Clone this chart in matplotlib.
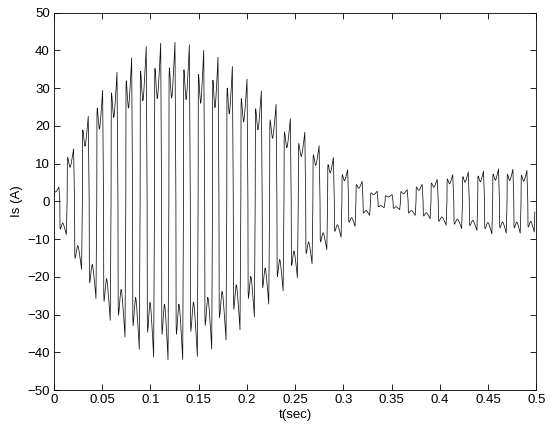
import numpy as np
import matplotlib
matplotlib.use("Agg")
import matplotlib.pyplot as plt

plt.rcParams['font.family'] = ['Liberation Sans', 'DejaVu Sans']

# spike times (s) and spike values (A) of each half-cycle
pos_t = [0.0052, 0.0204, 0.0356, 0.0505, 0.0654, 0.0806, 0.0957, 0.1107, 0.1255,
         0.1404, 0.1553, 0.1701, 0.1850, 0.2002, 0.2150, 0.2303, 0.2451, 0.2601,
         0.2749, 0.2897, 0.3045, 0.3195, 0.3351, 0.3506, 0.3662, 0.3817, 0.3973,
         0.4134, 0.4295, 0.4453, 0.4609, 0.4758, 0.4903]
pos_v = [3.8, 13.9, 22.5, 29.4, 34.2, 38.0, 41.0, 41.9, 42.1,
         41.5, 40.0, 38.2, 35.7, 32.4, 29.2, 25.7, 21.9, 18.3,
         14.7, 11.6, 8.4, 5.3, 2.7, 1.8, 3.1, 4.5, 5.8,
         7.1, 7.8, 8.0, 8.6, 8.5, 8.2]

neg_t = [0.0128, 0.0287, 0.0436, 0.0584, 0.0737, 0.0885, 0.1034, 0.1183, 0.1335,
         0.1487, 0.1636, 0.1784, 0.1929, 0.2078, 0.2227, 0.2376, 0.2524, 0.2676,
         0.2829, 0.2977, 0.3122, 0.3273, 0.3423, 0.3584, 0.3745, 0.3900, 0.4066,
         0.4227, 0.4385, 0.4540, 0.4689, 0.4834, 0.4979]
neg_v = [-8.8, -18.0, -25.7, -31.5, -35.9, -39.2, -41.2, -41.9, -41.9,
         -41.0, -39.1, -36.7, -34.0, -30.6, -27.2, -23.7, -20.2, -16.5,
         -12.8, -9.5, -6.6, -3.7, -1.7, -2.2, -3.7, -4.6, -6.3,
         -7.2, -7.7, -8.6, -8.4, -8.4, -8.1]

# shape of one half-cycle (fraction of half period, fraction of spike value)
shape_u = [0.0, 0.03, 0.07, 0.15, 0.25, 0.38, 0.45, 0.55, 0.65, 0.75, 0.88, 0.92, 0.96]
shape_h = [0.0, 0.78, 0.84, 0.80, 0.72, 0.65, 0.66, 0.72, 0.80, 0.88, 1.0, 0.70, 0.35]
spike_u = 0.88

spikes = sorted(zip(pos_t + neg_t, pos_v + neg_v))
st = np.array([s[0] for s in spikes])
sv = np.array([s[1] for s in spikes])

# zero crossings between spikes
bounds = [st[0] - spike_u * (st[1] - st[0])]
for k in range(len(st) - 1):
    bounds.append(st[k] + (1 - spike_u) * (st[k + 1] - st[k]))
bounds.append(st[-1] + (1 - spike_u) * (st[-1] - st[-2]))

t_pts = []
i_pts = []
for k in range(len(st)):
    b0, b1 = bounds[k], bounds[k + 1]
    for u, h in zip(shape_u, shape_h):
        if u <= spike_u:
            tt = b0 + u / spike_u * (st[k] - b0)
        else:
            tt = st[k] + (u - spike_u) / (1 - spike_u) * (b1 - st[k])
        t_pts.append(tt)
        i_pts.append(h * sv[k])

fig = plt.figure(figsize=(5.5, 4.34), dpi=100)
ax = fig.add_axes([0.098, 0.101, 0.877, 0.870])
ax.plot(t_pts, i_pts, color='#111111', lw=0.55)

ax.set_xlim(0, 0.5)
ax.set_ylim(-50, 50)
ax.set_xticks(np.arange(0, 0.501, 0.05))
ax.set_xticklabels(['0', '0.05', '0.1', '0.15', '0.2', '0.25', '0.3', '0.35',
                    '0.4', '0.45', '0.5'])
ax.set_yticks(np.arange(-50, 51, 10))
ax.tick_params(direction='in', top=True, right=True, length=4, width=0.6,
               labelsize=9.5, pad=3)
for sp in ax.spines.values():
    sp.set_linewidth(0.6)
ax.set_xlabel('t(sec)', fontsize=9.5, labelpad=2)
ax.set_ylabel('Is (A)', fontsize=9.5, labelpad=3)

fig.savefig('out.png', dpi=100)
